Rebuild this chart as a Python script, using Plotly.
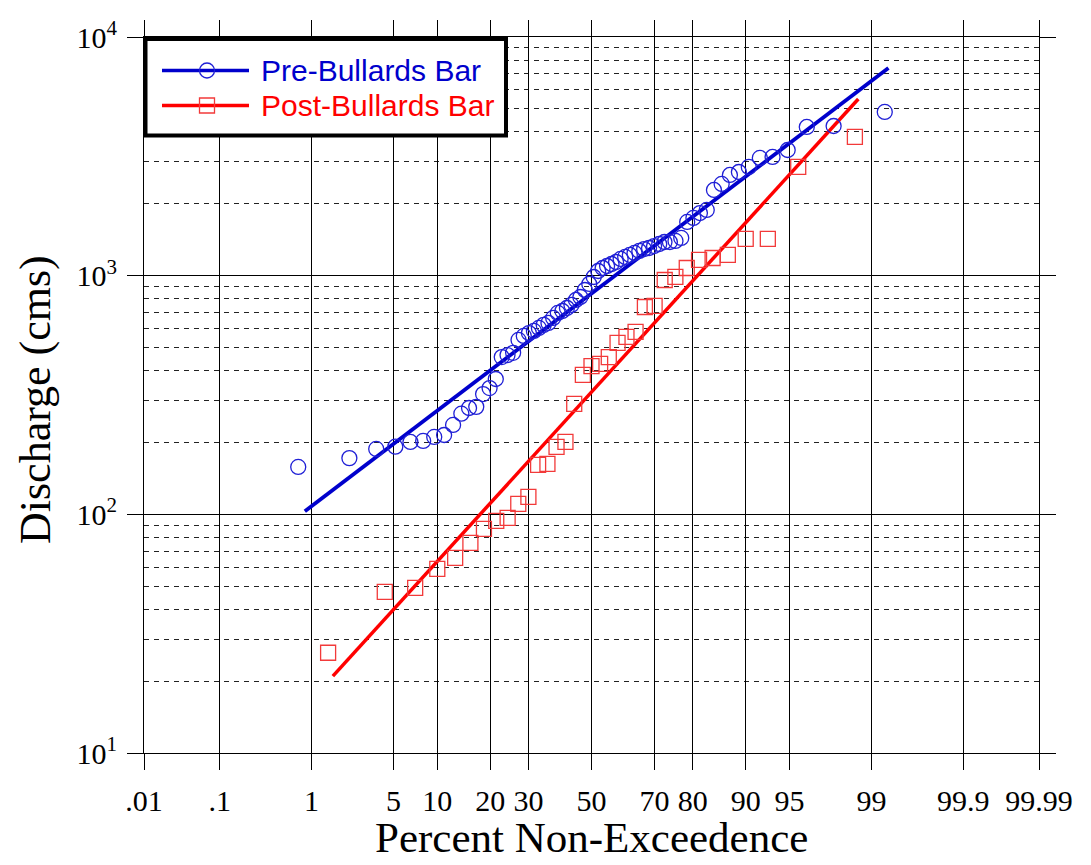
import plotly.graph_objects as go
from statistics import NormalDist

_nd = NormalDist()


def zscore(pct):
    return _nd.inv_cdf(pct / 100.0)


# ---------------- data ----------------
pre_pct = [0.74, 2.21, 3.68, 5.15, 6.62, 8.09, 9.56, 11.03, 12.50, 13.97,
           15.44, 16.91, 18.38, 19.85, 21.32, 22.79, 24.26, 25.74, 27.21, 28.68,
           30.15, 31.62, 33.09, 34.56, 36.03, 37.50, 38.97, 40.44, 41.91, 43.38,
           44.85, 46.32, 47.79, 49.26, 50.74, 52.21, 53.68, 55.15, 56.62, 58.09,
           59.56, 61.03, 62.50, 63.97, 65.44, 66.91, 68.38, 69.85, 71.32, 72.79,
           74.26, 75.74, 77.21, 78.68, 80.15, 81.62, 83.09, 84.56, 86.03, 87.50,
           88.97, 90.44, 91.91, 93.38, 94.85, 96.32, 97.79, 99.26]
pre_q = [158, 172, 188, 192, 201, 203, 211, 215, 237, 264,
         279, 282, 319, 338, 369, 456, 465, 475, 538, 559,
         575, 587, 604, 622, 634, 665, 698, 711, 732, 754,
         791, 814, 871, 923, 987, 1046, 1077, 1098, 1119, 1141,
         1175, 1198, 1221, 1245, 1269, 1293, 1306, 1331, 1357, 1384,
         1384, 1398, 1439, 1679, 1745, 1830, 1885, 2286, 2423, 2642,
         2719, 2854, 3113, 3143, 3362, 4198, 4238, 4852]

post_pct = [1.43, 4.29, 7.14, 10.00, 12.86, 15.71, 18.57, 21.43, 24.29, 27.14,
            30.00, 32.86, 35.71, 38.57, 41.43, 44.29, 47.14, 50.00, 52.86, 55.71,
            58.57, 61.43, 64.29, 67.14, 70.00, 72.86, 75.71, 78.57, 81.43, 84.29,
            87.14, 90.00, 92.86, 95.71, 98.57]
post_q = [26.3, 47.3, 49.2, 59.1, 65.7, 75.9, 86.9, 93.8, 96.6, 110.6,
          118.3, 161, 162.6, 191.6, 201, 290, 384, 418, 427, 456,
          523, 554, 581, 739, 747, 959, 988, 1077, 1164, 1186,
          1221, 1425, 1425, 2854, 3812]

pre_fit_pct = [0.86, 99.32]
pre_fit_q = [103, 7413]
post_fit_pct = [1.58, 98.67]
post_fit_q = [21.0, 5500]

x_tick_pct = [0.01, 0.1, 1, 5, 10, 20, 30, 50, 70, 80, 90, 95, 99, 99.9, 99.99]
x_tick_text = [".01", ".1", "1", "5", "10", "20", "30", "50", "70", "80",
               "90", "95", "99", "99.9", "99.99"]
y_tick_vals = [10, 100, 1000, 10000]
y_tick_text = ["10<sup>1</sup>", "10<sup>2</sup>", "10<sup>3</sup>", "10<sup>4</sup>"]
y_minor_vals = [m * 10 ** k for k in range(1, 4) for m in range(2, 10)]

legend_names = ["Pre-Bullards Bar", "Post-Bullards Bar"]

BLUE_LINE = "#0000cc"
BLUE_MK = "#1f1fd6"
RED_LINE = "#ff0000"
RED_MK = "#f23a3a"

SERIF = "Liberation Serif, Times New Roman, serif"
SANS = "Liberation Sans, Arial, sans-serif"

fig = go.Figure()

# fitted lines
fig.add_trace(go.Scatter(x=[zscore(p) for p in pre_fit_pct], y=pre_fit_q,
                         mode="lines", line=dict(color=BLUE_LINE, width=3.8),
                         showlegend=False, hoverinfo="skip"))
fig.add_trace(go.Scatter(x=[zscore(p) for p in post_fit_pct], y=post_fit_q,
                         mode="lines", line=dict(color=RED_LINE, width=3.5),
                         showlegend=False, hoverinfo="skip"))
# observed points
fig.add_trace(go.Scatter(x=[zscore(p) for p in pre_pct], y=pre_q, mode="markers",
                         marker=dict(symbol="circle-open", size=15,
                                     color=BLUE_MK, line=dict(width=1.3, color=BLUE_MK)),
                         name=legend_names[0], showlegend=False))
fig.add_trace(go.Scatter(x=[zscore(p) for p in post_pct], y=post_q, mode="markers",
                         marker=dict(symbol="square-open", size=15,
                                     color=RED_MK, line=dict(width=1.3, color=RED_MK)),
                         name=legend_names[1], showlegend=False))

# ---------------- custom legend box (paper units of the plot area) ----------------
W, H = 895.0, 716.0  # plot-area size in px
leg_x0, leg_x1 = (145.5 - 144) / W, (506 - 144) / W
leg_y0, leg_y1 = 1 - (135.5 - 37) / H, 1 - (39 - 37) / H
line_x = [(162 - 144) / W, (249 - 144) / W]
mk_x = (207 - 144) / W
rows_y = [1 - (70.5 - 37) / H, 1 - (105.5 - 37) / H]
text_x = (259 - 144) / W
hx, hy = 7.5 / W, 7.5 / H

fig.add_shape(type="rect", xref="paper", yref="paper", x0=leg_x0, x1=leg_x1,
              y0=leg_y0, y1=leg_y1, fillcolor="white",
              line=dict(color="black", width=4), layer="above")

for ry, lc, mc, kind, nm in zip(rows_y, [BLUE_LINE, RED_LINE], [BLUE_MK, RED_MK],
                                ["circle", "rect"], legend_names):
    fig.add_shape(type="line", xref="paper", yref="paper", x0=line_x[0], x1=line_x[1],
                  y0=ry, y1=ry, line=dict(color=lc, width=3.5), layer="above")
    fig.add_shape(type=kind, xref="paper", yref="paper", x0=mk_x - hx, x1=mk_x + hx,
                  y0=ry - hy, y1=ry + hy, fillcolor="rgba(0,0,0,0)",
                  line=dict(color=mc, width=1.3), layer="above")
    fig.add_annotation(xref="paper", yref="paper", x=text_x, y=ry,
                       xanchor="left", yanchor="middle", showarrow=False,
                       text=nm, font=dict(family=SANS, size=30, color=lc))

# axis titles
fig.add_annotation(xref="paper", yref="paper", x=0.5, y=(753 - 837) / H,
                   xanchor="center", yanchor="middle", showarrow=False,
                   text="Percent Non-Exceedence",
                   font=dict(family=SERIF, size=43, color="black"))
fig.add_annotation(xref="paper", yref="paper", x=(36 - 144) / W, y=1 - (400 - 37) / H,
                   xanchor="center", yanchor="middle", showarrow=False,
                   textangle=-90, text="Discharge (cms)",
                   font=dict(family=SERIF, size=44, color="black"))

zmax = zscore(99.99)
fig.update_layout(
    width=1091, height=865,
    margin=dict(l=144, r=52, t=37, b=112, pad=0),
    paper_bgcolor="white", plot_bgcolor="white",
    showlegend=False,
    xaxis=dict(range=[-zmax, zmax], tickmode="array",
               tickvals=[zscore(p) for p in x_tick_pct], ticktext=x_tick_text,
               showgrid=True, gridcolor="black", gridwidth=1,
               zeroline=False, showline=True, linecolor="black", linewidth=1,
               mirror="ticks", ticks="outside", ticklen=16, tickcolor="black",
               tickwidth=1, ticklabelstandoff=5,
               tickfont=dict(family=SERIF, size=30, color="black")),
    yaxis=dict(type="log", range=[1, 4], tickmode="array",
               tickvals=y_tick_vals, ticktext=y_tick_text,
               showgrid=True, gridcolor="black", gridwidth=1,
               zeroline=False, showline=True, linecolor="black", linewidth=1,
               mirror="ticks", ticks="outside", ticklen=16, tickcolor="black",
               tickwidth=1, ticklabelstandoff=4,
               tickfont=dict(family=SERIF, size=30, color="black"),
               minor=dict(tickmode="array", tickvals=y_minor_vals, ticks="",
                          showgrid=True, gridcolor="#222222", gridwidth=1,
                          griddash="5px,5px")),
)

fig.write_html("out.html")
